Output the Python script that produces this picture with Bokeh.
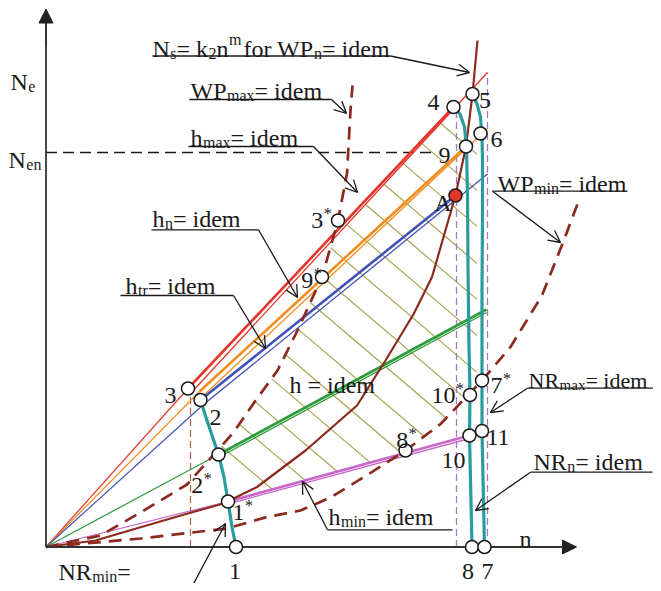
import numpy as np
from bokeh.plotting import figure
from bokeh.models import Range1d, Arrow, NormalHead, OpenHead
from bokeh.core.properties import value
from bokeh.embed import file_html
from bokeh.resources import INLINE

# ---------------- data (n, Ne in drawing units) ----------------
# characteristic points
pt_label = ["1", "1*", "2*", "2", "3", "4", "5", "6", "9", "3*", "9*", "8", "7", "10", "11", "10*", "7*", "8*"]
pt_n = [190, 182, 172.5, 154.5, 142, 407.5, 426.5, 434.5, 420, 292, 276, 426, 438.5, 423.5, 436, 424, 436, 359.5]
pt_Ne = [0, 45.5, 92.5, 147, 158.5, 440, 453, 413.5, 400.5, 326.5, 270, 0, 0, 111.5, 116, 152, 166.5, 96.5]
A_n = [409.5]
A_Ne = [351.5]
Nen = 394.5
tick_labels = ["1", "8", "7"]
tick_n = [190, 426, 438.5]

# NR = idem curves (teal)
nrmin_n = [154.5, 161, 172.5, 178, 182, 186, 190]
nrmin_Ne = [147, 126.5, 92.5, 70, 45.5, 20, 0]
nrn_n = [407.5, 414, 418.5, 420.5, 421.5, 422, 423, 424, 423.5, 426]
nrn_Ne = [440, 433, 420, 400, 350, 280, 200, 152, 111.5, 0]
nrmax_n = [426.5, 431, 434.5, 436, 436.5, 436.5, 436, 436, 436, 438.5]
nrmax_Ne = [453, 443, 430, 410, 386.5, 330, 256.5, 166.5, 116, 0]

# Ns = k2 n^m (brown solid)
ns_n = [0, 49.5, 94.5, 140, 177.5, 211, 259.5, 311, 339.5, 367.8, 386, 409.5, 420, 426.5, 431.5]
ns_Ne = [0, 6.5, 19.8, 33, 43.5, 60, 96.5, 141.5, 186.5, 233.2, 270, 351.5, 400.5, 453, 506.5]
# WP_max = idem (brown dashed)
wpmax_n = [0, 54.5, 94.5, 141, 187.5, 207.5, 231.5, 251.5, 276, 292, 301, 304.5, 306.5]
wpmax_Ne = [0, 11.5, 34.5, 62.5, 114.5, 143.5, 176.5, 216.5, 270, 326.5, 373.5, 436.5, 461.5]
# WP_min = idem (brown dashed)
wpmin_n = [0, 94.5, 181, 221, 254.5, 284.5, 317.8, 359.5, 394.5, 436, 464.5, 496, 517.8, 532.8]
wpmin_Ne = [0, 8.5, 18.5, 30, 36.5, 49.5, 69.8, 96.5, 123, 166.5, 200, 251.5, 306.5, 346.5]

# h = idem lines: (n list, Ne list)
red_ray = ([0, 142], [0, 158.5])
red_thick = ([142, 407.5], [158.5, 440])
red_thin = ([144.5, 441.5], [153.5, 474.5])
orange_ray = ([0, 153.5], [0, 155.5])
orange_thick = ([153.5, 420], [155.5, 400.5])
orange_thin = ([156, 441.5], [150, 418.5])
blue_ray = ([0, 157.5], [0, 142.5])
blue_thick = ([154.5, 409.5], [147, 351.5])
blue_thin = ([157.5, 441.5], [142.5, 373])
green_ray = ([0, 172.5], [0, 92.5])
green_thick = ([172.5, 440.5], [92.5, 237.5])
green_thin = ([172.5, 440.5], [89.5, 234.5])
mag_ray = ([0, 182], [0, 45.5])
mag_thick = ([182, 423.5], [45.5, 111.5])
mag_thin = ([182, 423.5], [43, 108.5])

# limit verticals
purple_n = [410.5, 441.5]
purple_top = [436.5, 474.5]

# hatch (h = idem family) intercepts
hatch_k = [250, 287, 323, 360, 396, 432, 469, 505, 541, 578, 614, 650, 687, 723, 759]
hatch_slope = 0.85
hatch_nmax = 431

# ---------------- helpers ----------------
def X(px):
    return px - 45.5


def Y(py):
    return 546.5 - py


p = figure(width=653, height=583, x_range=Range1d(-45.5, 607.5), y_range=Range1d(-36.5, 546.5),
           output_backend="svg", toolbar_location=None, x_axis_location=None, y_axis_location=None,
           min_border=0, outline_line_color=None, background_fill_color="white")
p.xgrid.visible = False
p.ygrid.visible = False

RED = "#e5352b"
ORANGE = "#f28c1e"
BLUE = "#4052b5"
GREEN = "#2f9a3c"
MAG = "#c768c8"
BROWN = "#8c2a1f"
TEAL = "#2a9c9f"
OLIVE = "#a8a452"
PURPLE = "#a07cc4"
INK = "#1a1a1a"


def seg_fn(line):
    (x0, x1), (y0, y1) = line
    s = (y1 - y0) / (x1 - x0)
    return lambda n: y0 + s * (n - x0)


# hatch
upper = seg_fn(red_thin)
mag_lo = seg_fn(mag_thick)
grid = np.arange(0, hatch_nmax + 0.001, 0.25)
hx0, hy0, hx1, hy1 = [], [], [], []
for k in hatch_k:
    ne = k - hatch_slope * grid
    ok = (ne < upper(grid)) \
        & (ne > np.maximum(mag_lo(grid), np.interp(grid, wpmin_n, wpmin_Ne))) \
        & (ne < np.interp(grid, wpmax_n, wpmax_Ne, right=1e9)) \
        & (grid > np.interp(ne, nrmin_Ne[::-1], nrmin_n[::-1]))
    idx = np.nonzero(ok)[0]
    if len(idx):
        hx0.append(grid[idx[0]]); hy0.append(ne[idx[0]])
        hx1.append(grid[idx[-1]]); hy1.append(ne[idx[-1]])
p.segment(hx0, hy0, hx1, hy1, line_color=OLIVE, line_width=1.2)

# verticals
p.segment(purple_n, [0, 0], purple_n, purple_top, line_color=PURPLE, line_width=1.3, line_dash="7 4")
p.segment([pt_n[4] + 2.5], [0], [pt_n[4] + 2.5], [pt_Ne[4] - 5], line_color="#b4623c", line_width=1.2,
          line_dash="7 4")
# Nen level
p.line([0, 391], [Nen, Nen], line_color=INK, line_width=1.5, line_dash="11 6")

# h lines
for ln, col, w in [(red_ray, RED, 1.2), (red_thin, RED, 1.3), (red_thick, RED, 2.6),
                   (orange_ray, ORANGE, 1.2), (orange_thin, ORANGE, 1.3), (orange_thick, ORANGE, 2.6),
                   (blue_ray, BLUE, 1.2), (blue_thin, BLUE, 1.3), (blue_thick, BLUE, 2.6),
                   (green_ray, GREEN, 1.2), (green_thin, GREEN, 1.3), (green_thick, GREEN, 2.6),
                   (mag_ray, MAG, 1.2), (mag_thin, MAG, 1.3), (mag_thick, MAG, 2.6)]:
    p.line(ln[0], ln[1], line_color=col, line_width=w)

# brown curves
p.line(wpmax_n, wpmax_Ne, line_color=BROWN, line_width=2.7, line_dash="13 8")
p.line(wpmin_n, wpmin_Ne, line_color=BROWN, line_width=2.7, line_dash="13 8")
p.line(ns_n, ns_Ne, line_color=BROWN, line_width=2.2)

# teal curves
for cn, ce in [(nrmin_n, nrmin_Ne), (nrn_n, nrn_Ne), (nrmax_n, nrmax_Ne)]:
    p.line(cn, ce, line_color=TEAL, line_width=3.2, line_join="round")

# axes
p.line([0, 0], [0, 526], line_color="#333333", line_width=1.8)
p.line([0, 518], [0, 0], line_color="#333333", line_width=1.8)
p.add_layout(Arrow(end=NormalHead(size=14, fill_color="#222222", line_color="#222222"),
                   x_start=0, y_start=500, x_end=0, y_end=538, line_width=1.8, line_color="#333333"))
p.add_layout(Arrow(end=NormalHead(size=14, fill_color="#222222", line_color="#222222"),
                   x_start=500, y_start=0, x_end=530.5, y_end=0, line_width=1.8, line_color="#333333"))

# points
p.scatter(pt_n, pt_Ne, size=13, fill_color="white", line_color=INK, line_width=1.5)
p.scatter(A_n, A_Ne, size=13, fill_color=RED, line_color=INK, line_width=1.5)

# ---------------- text ----------------
FONT = "Liberation Serif"
WID = {' ': 250, '=': 564, 'a': 444, 'd': 500, 'e': 444, 'i': 278, 'k': 500, 'm': 778, 'n': 500,
       'o': 500, 'r': 333, 's': 389, 'x': 500, 'f': 333, 't': 278, 'N': 722, 'R': 667, 'W': 944,
       'P': 556, 'A': 722, 'h': 500, '*': 500}


def tw(s, size):
    return sum(WID.get(c, 500) for c in s) / 1000.0 * size


runs_by_size = {}


def put(x, y, s, size):
    d = runs_by_size.setdefault(size, {"x": [], "y": [], "t": []})
    d["x"].append(x); d["y"].append(y); d["t"].append(s)


def rich(px, py, runs, F=24):
    SF = round(F * 2 / 3)
    x = X(px)
    for s, kind in runs:
        if kind == 0:
            put(x, Y(py), s, F)
            x += tw(s, F)
        else:
            dy = -4.5 if kind < 0 else (7 if s == "*" else 9)
            put(x + 0.5, Y(py) + dy, s, SF)
            x += tw(s, SF) + (0.5 if kind < 0 else 2.5)


def centered(cx, py, digits, star=False):
    runs = [(digits, 0)]
    if star:
        runs.append(("*", 1))
    rich(cx - tw(digits, 24) / 2, py, runs)


rich(152, 48, [("N", 0), ("s", -1), ("= k", 0), ("2", -1), ("n", 0), ("m", 1), ("for WP", 0),
               ("n", -1), ("= idem", 0)])
rich(190, 90, [("WP", 0), ("max", -1), ("= idem", 0)])
rich(190, 137.7, [("h", 0), ("max", -1), (" = idem", 0)])
rich(152, 218.5, [("h", 0), ("n", -1), (" = idem", 0)])
rich(125, 285, [("h", 0), ("tr", -1), (" = idem", 0)])
rich(289, 384, [("h = idem", 0)])
rich(497, 183.5, [("WP", 0), ("min", -1), (" = idem", 0)])
rich(528, 380, [("NR", 0), ("max", -1), (" = idem", 0)], F=22)
rich(533, 461.7, [("NR", 0), ("n", -1), (" = idem", 0)])
rich(328, 516.7, [("h", 0), ("min", -1), (" = idem", 0)])
rich(58, 571, [("NR", 0), ("min", -1), (" =", 0)])
rich(10, 81.7, [("N", 0), ("e", -1)])
rich(8, 159, [("N", 0), ("en", -1)])
rich(519, 538, [("n", 0)])

# tick-like labels under the n axis
for lab, nv in zip(tick_labels, tick_n):
    cx = nv + 45.5
    centered(cx - 1 if lab == "1" else cx - 4 if lab == "8" else cx + 3, 571, lab)

# point labels
centered(170, 395, "3")
centered(215, 416.5, "2")
centered(196.7, 485, "2", True)
centered(238, 512, "1", True)
centered(316.7, 220, "3", True)
centered(306.7, 280, "9", True)
centered(433, 102, "4")
centered(484.5, 100, "5")
centered(496, 138.5, "6")
centered(444, 155, "9")
centered(442.5, 202, "A")
centered(443, 395, "10", True)
centered(496, 385, "7", True)
centered(401.7, 440, "8", True)
centered(453, 460, "10")
centered(498, 437, "11")

for size, d in runs_by_size.items():
    p.text(d["x"], d["y"], d["t"], text_font=value(FONT), text_font_size=f"{size}px",
           text_baseline="alphabetic", text_align="left", text_color=INK)

# underlines and leader arrows (ref-pixel layout)
leaders = [
    (152, 390, 55.5, 469, 72, "r"),
    (189, 331, 99, 346, 113, "r"),
    (188, 313, 146, 357, 192, "r"),
    (151, 258, 229.3, 297, 297, "r"),
    (120, 233, 295, 265, 348, "r"),
    (492, 627, 190.7, 560, 242, "l"),
    (527, 662, 387.7, 490, 412, "l"),
    (530, 652, 471.7, 475, 510, "l"),
    (327, 452, 529.3, 302, 481, "l"),
]
ux0, ux1, uy = [], [], []
for a, b, yy, tx, ty, side in leaders:
    ux0.append(X(a)); ux1.append(X(b)); uy.append(Y(yy))
    sx = b if side == "r" else a
    p.add_layout(Arrow(end=OpenHead(size=12, line_width=1.3, line_color=INK),
                       x_start=X(sx), y_start=Y(yy), x_end=X(tx), y_end=Y(ty),
                       line_width=1.3, line_color=INK))
p.segment(ux0, uy, ux1, uy, line_color=INK, line_width=1.3)
p.add_layout(Arrow(end=OpenHead(size=12, line_width=1.3, line_color=INK),
                   x_start=X(190), y_start=Y(589), x_end=X(225), y_end=Y(523),
                   line_width=1.3, line_color=INK))

open("out.html", "w").write(file_html(p, INLINE))
